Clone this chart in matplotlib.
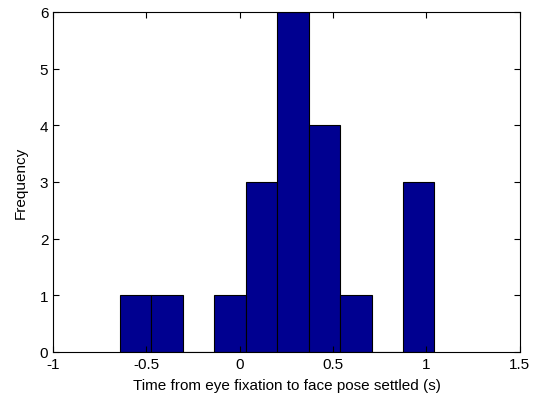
import matplotlib
matplotlib.use("Agg")
import matplotlib.pyplot as plt

plt.rcParams['font.family'] = ['Liberation Sans', 'DejaVu Sans']

# histogram bins (centers) and counts
bin_centers = [-0.559, -0.390, -0.222, -0.053, 0.116, 0.285, 0.454, 0.622, 0.791, 0.958]
counts = [1, 1, 0, 1, 3, 6, 4, 1, 0, 3]
bin_width = 0.1686

fig = plt.figure(figsize=(5.37, 4.02), dpi=100)
ax = fig.add_axes([0.099, 0.122, 0.869, 0.846])

ax.bar(bin_centers, counts, width=bin_width, color='#000090',
       edgecolor='black', linewidth=0.8)

ax.set_xlim(-1, 1.5)
ax.set_ylim(0, 6)
ax.set_xticks([-1, -0.5, 0, 0.5, 1, 1.5])
ax.set_xticklabels(['-1', '-0.5', '0', '0.5', '1', '1.5'])
ax.set_yticks(range(0, 7))

ax.tick_params(direction='in', top=True, right=True, labelsize=11, length=4)
for s in ax.spines.values():
    s.set_linewidth(0.8)

ax.set_xlabel("Time from eye fixation to face pose settled (s)", fontsize=11, labelpad=5)
ax.set_ylabel("Frequency", fontsize=11, labelpad=9)

fig.savefig("out.png", dpi=100)
